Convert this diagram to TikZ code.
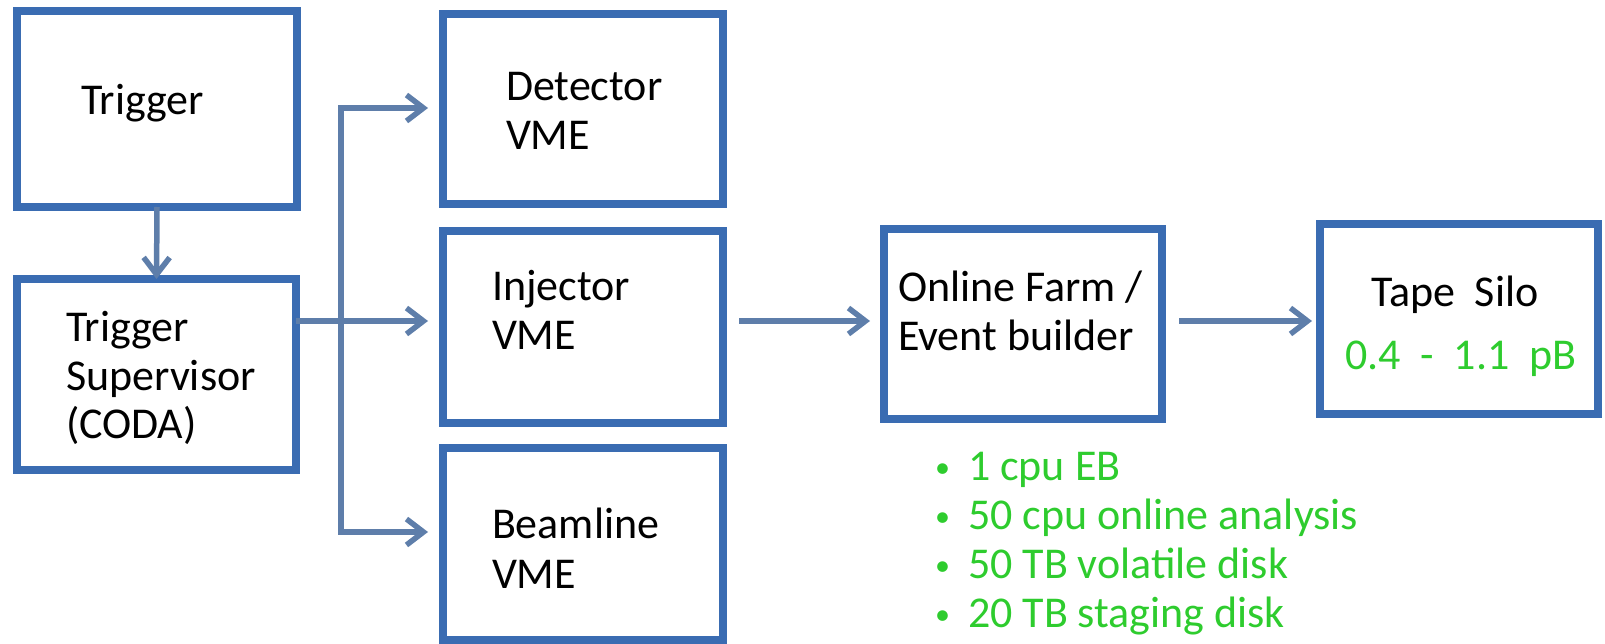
\documentclass[tikz,border=0pt]{standalone}
\usepackage{fontspec}
\setmainfont{Carlito}
\usetikzlibrary{arrows.meta}
\definecolor{boxblue}{RGB}{58,108,178}
\definecolor{arrowblue}{RGB}{94,126,170}
\definecolor{txtgreen}{RGB}{46,204,46}
\newcommand{\smallbul}{\makebox[33pt][l]{\raisebox{3pt}{\fontsize{30}{30}\selectfont\textbullet}}}
\begin{document}
\begin{tikzpicture}[x=1pt,y=-1pt,
  box/.style={draw=boxblue, line width=8pt, inner sep=0pt, outer sep=0pt},
  lbl/.style={anchor=base west, inner sep=0pt, outer sep=0pt, font=\fontsize{44}{49}\selectfont},
  glbl/.style={lbl, text=txtgreen},
  arr/.style={draw=arrowblue, line width=5.5pt, -{Straight Barb[length=17pt,width=26pt]}},
]
\useasboundingbox (0,0) rectangle (1605,644);
% boxes
\node[box, minimum width=280pt, minimum height=196pt] (trig) at (157,109) {};
\node[box, minimum width=279pt, minimum height=191pt] (sup) at (156.5,374.5) {};
\node[box, minimum width=280pt, minimum height=190pt] (det) at (583,109) {};
\node[box, minimum width=280pt, minimum height=192pt] (inj) at (583,327) {};
\node[box, minimum width=280pt, minimum height=192pt] (beam) at (583,544) {};
\node[box, minimum width=278pt, minimum height=190pt] (farm) at (1023,324) {};
\node[box, minimum width=278pt, minimum height=190pt] (tape) at (1459,319) {};
% texts
\node[lbl] (t1) at (81,115) {Trigger};
\node[lbl] (t2a) at (66,341) {Trigger};
\node[lbl] (t2b) at (66,390) {Supervisor};
\node[lbl] (t2c) at (66,438) {(CODA)};
\node[lbl] (t3a) at (506,101) {Detector};
\node[lbl] (t3b) at (506,150) {VME};
\node[lbl] (t4a) at (492,300) {Injector};
\node[lbl] (t4b) at (492,349) {VME};
\node[lbl] (t5a) at (492,538) {Beamline};
\node[lbl] (t5b) at (492,588) {VME};
\node[lbl] (t6a) at (898,301) {Online Farm /};
\node[lbl] (t6b) at (898,350) {Event builder};
\node[lbl] (t7a) at (1371,306) {Tape\ \ Silo};
\node[glbl] (t7b) at (1345,369) {0.4\ \ -\ \ 1.1\ \ pB};
\node[glbl] (b1) at (935,480) {\smallbul 1 cpu EB};
\node[glbl] (b2) at (935,529) {\smallbul 50 cpu online analysis};
\node[glbl] (b3) at (935,578) {\smallbul 50 TB volatile disk};
\node[glbl] (b4) at (935,627) {\smallbul 20 TB staging disk};
% connectors
\coordinate (j) at (341,321);
\draw[arr] (trig.south) -- (sup.north);
\draw[arr, -] (sup.east |- j) -- (j);
\draw[arr, shorten >=15pt] (j) -- (inj.west |- j);
\draw[arr, shorten >=15pt] (j) |- ([yshift=1pt]det.west);
\draw[arr, shorten >=15pt] (j) |- ([yshift=12pt]beam.west);
\draw[arr, shorten <=16pt, shorten >=14pt] ([yshift=6pt]inj.east) -- ([yshift=3pt]farm.west);
\draw[arr, shorten <=17pt, shorten >=8pt] ([yshift=3pt]farm.east) -- ([yshift=-2pt]tape.west);
\end{tikzpicture}
\end{document}
